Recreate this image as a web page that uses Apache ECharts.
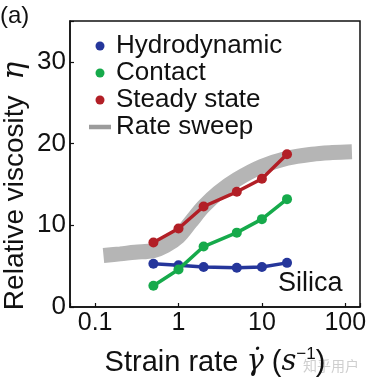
<!DOCTYPE html>
<html><head><meta charset="utf-8">
<script src="https://cdn.jsdelivr.net/npm/echarts@6/dist/echarts.min.js"></script>
<style>html,body{margin:0;padding:0;background:#fff}#c{width:371px;height:382px}</style>
</head><body><div id="c"></div>
<script>
const rates = [0.5, 1, 2, 5, 10, 20];
const hydrodynamic = [5.3, 5.1, 4.9, 4.8, 4.9, 5.4];
const contact = [2.6, 4.6, 7.4, 9.1, 10.75, 13.2];
const steadyState = [7.9, 9.6, 12.3, 14.1, 15.7, 18.7];
const sweepRates = [0.126, 0.2, 0.3, 0.5, 0.7, 1.0, 1.4, 2, 3, 5, 10, 20, 40, 70, 120];
const sweepViscosity = [6.3, 6.5, 6.7, 6.9, 7.5, 8.6, 10.4, 12.3, 14.0, 15.6, 17.2, 18.2, 18.7, 18.9, 19.0];
const xTickValues = [0.1, 1, 10, 100];
const xTickLabels = ['0.1', '1', '10', '100'];
const yTickLabels = ['0', '10', '20', '30'];

const FONT = '"Liberation Sans", Arial, Helvetica, sans-serif';
const SERIF = '"DejaVu Serif", "Liberation Serif", serif';
const pairs = (xs, ys) => xs.map((x, i) => [x, ys[i]]);

const chart = echarts.init(document.getElementById('c'), null, {renderer: 'canvas'});
chart.setOption({
  animation: false,
  backgroundColor: '#fff',
  textStyle: {fontFamily: FONT},
  grid: {left: 70, right: 11, top: 21, bottom: 75, outerBoundsMode: 'none', containLabel: false,
         show: true, borderColor: '#111', borderWidth: 1.5, backgroundColor: 'transparent'},
  legend: {
    orient: 'vertical', left: 89, top: 33, padding: 0, itemWidth: 22, itemHeight: 9, itemGap: 1,
    textStyle: {fontFamily: FONT, fontSize: 26, color: '#111', lineHeight: 26},
    data: [
      {name: 'Hydrodynamic', icon: 'circle'},
      {name: 'Contact', icon: 'circle'},
      {name: 'Steady state', icon: 'circle'},
      {name: 'Rate sweep', icon: 'path://M0,0h0.01v0.01h-0.01z M0,2.2H22V6.8H0Z M22,9h-0.01v-0.01h0.01z'}
    ]
  },
  xAxis: {
    type: 'log', logBase: 10, min: 0.05, max: 150,
    name: '{n|Strain rate }{i|γ̇}{n| (}{i|s}{sup|−1}{n|)}',
    nameLocation: 'middle', nameGap: 39, nameMoveOverlap: false,
    nameTextStyle: {
      rich: {
        n: {fontFamily: FONT, fontSize: 29, color: '#111'},
        i: {fontFamily: SERIF, fontStyle: 'italic', fontSize: 29, color: '#111'},
        sup: {fontFamily: FONT, fontSize: 17, color: '#111', padding: [0, 0, 16, 0]}
      }
    },
    axisLine: {lineStyle: {color: '#111', width: 1.5}},
    axisTick: {inside: true, length: 4, lineStyle: {color: '#111', width: 1.2}},
    minorTick: {show: false},
    splitLine: {show: false},
    axisLabel: {
      fontFamily: FONT, fontSize: 25, color: '#111', margin: 4,
      formatter: v => {
        const i = xTickValues.findIndex(t => Math.abs(Math.log10(v) - Math.log10(t)) < 1e-6);
        return i >= 0 ? xTickLabels[i] : '';
      }
    }
  },
  yAxis: {
    type: 'value', min: 0, max: 35, interval: 10,
    name: '{n|Relative viscosity  }{g|η}',
    nameLocation: 'middle', nameGap: 40, nameRotate: 90, nameMoveOverlap: false,
    nameTextStyle: {
      padding: [0, 44, 0, 0],
      rich: {
        n: {fontFamily: FONT, fontSize: 28, color: '#111'},
        g: {fontFamily: SERIF, fontStyle: 'italic', fontSize: 30, color: '#111'}
      }
    },
    axisLine: {show: true, lineStyle: {color: '#111', width: 1.5}},
    axisTick: {show: true, inside: true, length: 4, lineStyle: {color: '#111', width: 1.2}},
    splitLine: {show: false},
    axisLabel: {
      fontFamily: FONT, fontSize: 26, color: '#111', margin: 4,
      formatter: v => yTickLabels.includes(String(v)) ? String(v) : ''
    }
  },
  series: [
    {
      name: 'Rate sweep', type: 'line', data: pairs(sweepRates, sweepViscosity),
      smooth: 0.35, showSymbol: false, symbol: 'none',
      lineStyle: {color: '#b5b5b5', width: 15, cap: 'butt'},
      itemStyle: {color: '#9c9c9c'}, z: 1
    },
    {
      name: 'Hydrodynamic', type: 'line', data: pairs(rates, hydrodynamic),
      symbol: 'circle', symbolSize: 10,
      lineStyle: {color: '#25369b', width: 3.5}, itemStyle: {color: '#25369b'}, z: 2
    },
    {
      name: 'Contact', type: 'line', data: pairs(rates, contact),
      symbol: 'circle', symbolSize: 10,
      lineStyle: {color: '#16aa4b', width: 3.5}, itemStyle: {color: '#16aa4b'}, z: 3
    },
    {
      name: 'Steady state', type: 'line', data: pairs(rates, steadyState),
      symbol: 'circle', symbolSize: 10,
      lineStyle: {color: '#b21f26', width: 3.5}, itemStyle: {color: '#b21f26'}, z: 4
    }
  ],
  graphic: [
    {type: 'text', left: 0, top: 4, style: {text: '(a)', font: '24px ' + FONT, fill: '#111'}},
    {type: 'text', left: 278, top: 270, style: {text: 'Silica', font: '27px ' + FONT, fill: '#111'}},
    {type: 'text', left: 303, top: 359, style: {text: '知乎用户', font: '14px "Noto Sans CJK SC"', fill: '#cfcfcf'}}
  ]
});
</script></body></html>
